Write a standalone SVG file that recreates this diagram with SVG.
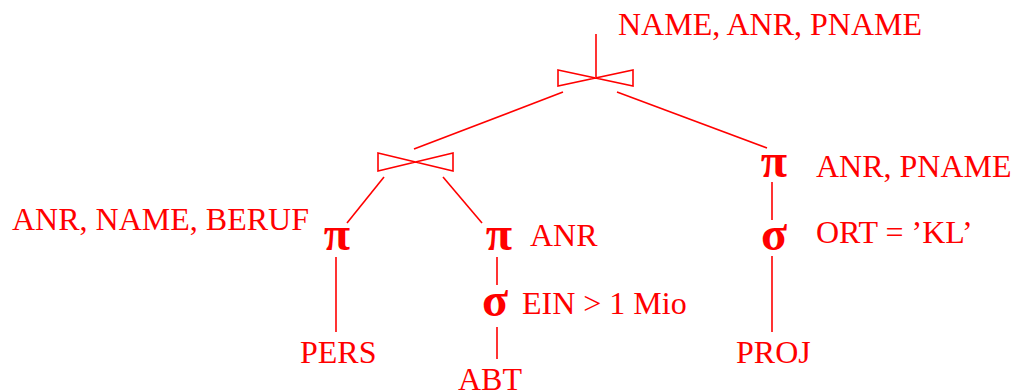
<svg xmlns="http://www.w3.org/2000/svg" width="1018" height="391" viewBox="0 0 1018 391">
<style>
.t{font-family:"Liberation Serif","Times New Roman",serif;font-size:32px;fill:#ff0000}
.g{font-family:"Liberation Serif","Times New Roman",serif;font-size:48px;font-weight:bold;fill:#ff0000;text-anchor:middle}
.l{stroke:#ff0000;stroke-width:1.6;fill:none}
</style>
<rect width="1018" height="391" fill="#ffffff"/>
<g id="connectors">
<line class="l" x1="596" y1="34" x2="596" y2="77"/>
<line class="l" x1="563" y1="92" x2="414" y2="149"/>
<line class="l" x1="617" y1="92" x2="767" y2="148"/>
<line class="l" x1="384" y1="177" x2="347" y2="223"/>
<line class="l" x1="443" y1="177" x2="482" y2="223"/>
<line class="l" x1="336" y1="257" x2="336" y2="332"/>
<line class="l" x1="497" y1="257" x2="497" y2="285"/>
<line class="l" x1="497" y1="327" x2="497" y2="359"/>
<line class="l" x1="772" y1="182" x2="772" y2="220"/>
<line class="l" x1="772" y1="256" x2="772" y2="332"/>
</g>
<g id="join1">
<path class="l" d="M558,70 L633,86 L633,70 L558,86 Z"/>
<text class="t" x="618" y="35">NAME, ANR, PNAME</text>
</g>
<g id="join2">
<path class="l" d="M378,153 L453,171 L453,153 L378,171 Z"/>
</g>
<g id="proj1">
<text class="g" x="337" y="250">π</text>
<text class="t" x="12" y="230">ANR, NAME, BERUF</text>
</g>
<g id="proj2">
<text class="g" x="499" y="250">π</text>
<text class="t" x="530" y="246">ANR</text>
</g>
<g id="sel1">
<text class="g" x="495" y="316">σ</text>
<text class="t" x="522" y="314">EIN &gt; 1 Mio</text>
</g>
<g id="proj3">
<text class="g" x="774" y="177">π</text>
<text class="t" x="816" y="177">ANR, PNAME</text>
</g>
<g id="sel2">
<text class="g" x="774" y="250">σ</text>
<text class="t" x="816" y="243">ORT = ’KL’</text>
</g>
<g id="pers"><text class="t" x="300" y="363">PERS</text></g>
<g id="abt"><text class="t" x="458" y="390">ABT</text></g>
<g id="projrel"><text class="t" x="736" y="363">PROJ</text></g>
</svg>
